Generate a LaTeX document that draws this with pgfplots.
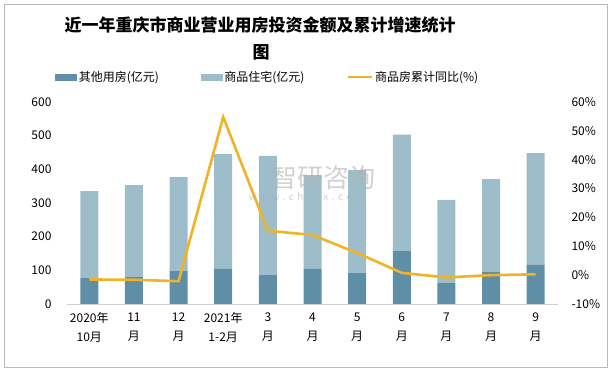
\documentclass[border=0pt]{standalone}
\usepackage{fontspec}
\setmainfont{Noto Sans CJK SC}
\usepackage{pgfplots}
\pgfplotsset{compat=1.18}
\definecolor{darkbar}{HTML}{5E8FA7}
\definecolor{lightbar}{HTML}{9EBDCB}
\definecolor{gold}{HTML}{F0B323}
\definecolor{axgray}{HTML}{D0D0D0}
\begin{document}
\begin{tikzpicture}[x=1pt,y=1pt]
\useasboundingbox (0,0) rectangle (615,371);
\draw[gray!55, line width=0.6pt] (4,4) rectangle (607,367);
\node[font=\bfseries\fontsize{17}{20}\selectfont] at (260,346) {近一年重庆市商业营业用房投资金额及累计增速统计};
\node[font=\bfseries\fontsize{17}{20}\selectfont] at (261,319) {图};
\begin{axis}[
  at={(67pt,67pt)}, anchor=south west,
  scale only axis, width=491pt, height=202pt,
  xmin=-0.5, xmax=10.5, ymin=0, ymax=600,
  ybar stacked, bar width=18pt,
  axis x line*=bottom, axis y line*=left,
  x axis line style={-, draw=axgray, line width=0.8pt},
  y axis line style={draw=none},
  major tick length=0pt,
  xtick={0,...,10},
  xticklabels={{2020年\\10月},{11\\月},{12\\月},{2021年\\1-2月},{3\\月},{4\\月},{5\\月},{6\\月},{7\\月},{8\\月},{9\\月}},
  xticklabel style={align=center, font=\fontsize{12}{19}\selectfont, yshift=-5pt},
  ytick={0,100,...,600},
  yticklabel style={font=\fontsize{12}{14}\selectfont, xshift=-12pt},
  /pgf/number format/assume math mode=true,
]
\addplot[fill=darkbar, draw=none] coordinates {(0,77) (1,81) (2,98) (3,104) (4,86) (5,104) (6,92) (7,157) (8,62) (9,95) (10,116)};
\addplot[fill=lightbar, draw=none] coordinates {(0,258) (1,272) (2,279) (3,341) (4,354) (5,279) (6,306) (7,346) (8,247) (9,276) (10,332)};
\end{axis}
\begin{axis}[
  at={(67pt,67pt)}, anchor=south west,
  scale only axis, width=491pt, height=202pt,
  xmin=-0.5, xmax=10.5, ymin=-10, ymax=60,
  axis x line=none, axis y line*=right,
  y axis line style={draw=none},
  major tick length=0pt,
  ytick={-10,0,...,60},
  yticklabel={\pgfmathprintnumber{\tick}\%},
  yticklabel style={font=\fontsize{12}{14}\selectfont, xshift=10pt},
  /pgf/number format/assume math mode=true,
  legend columns=3,
  legend style={at={(-0.03,1.124)}, anchor=west, draw=none, fill=none,
    font=\fontsize{12}{14}\selectfont,
    /tikz/every even column/.append style={column sep=40pt}},
]
\addlegendimage{legend image code/.code={\fill[darkbar] (0pt,-3pt) rectangle (21pt,3pt);}}
\addlegendentry{其他用房(亿元)}
\addlegendimage{legend image code/.code={\fill[lightbar] (0pt,-3pt) rectangle (21pt,3pt);}}
\addlegendentry{商品住宅(亿元)}
\addplot[gold, line width=2.6pt, legend image code/.code={\draw[gold, line width=2.6pt] (0pt,0pt) -- (24pt,0pt);}] coordinates {(0,-1.5) (1,-1.6) (2,-2.1) (3,54.8) (4,15.4) (5,13.9) (6,7.7) (7,0.8) (8,-0.8) (9,0) (10,0.3)};
\addlegendentry{商品房累计同比(\%)}
\end{axis}
\node[text=gray!60, opacity=0.6, font=\fontsize{26}{28}\selectfont] at (323,193) {智研咨询};
\node[text=gray!60, opacity=0.6, font=\fontsize{10}{10}\selectfont] at (307,173) {w\,\,w\,\,w\,\,.\,\,c\,\,h\,\,y\,\,x\,\,x\,\,.\,\,c\,\,o\,\,m};
\end{tikzpicture}
\end{document}
